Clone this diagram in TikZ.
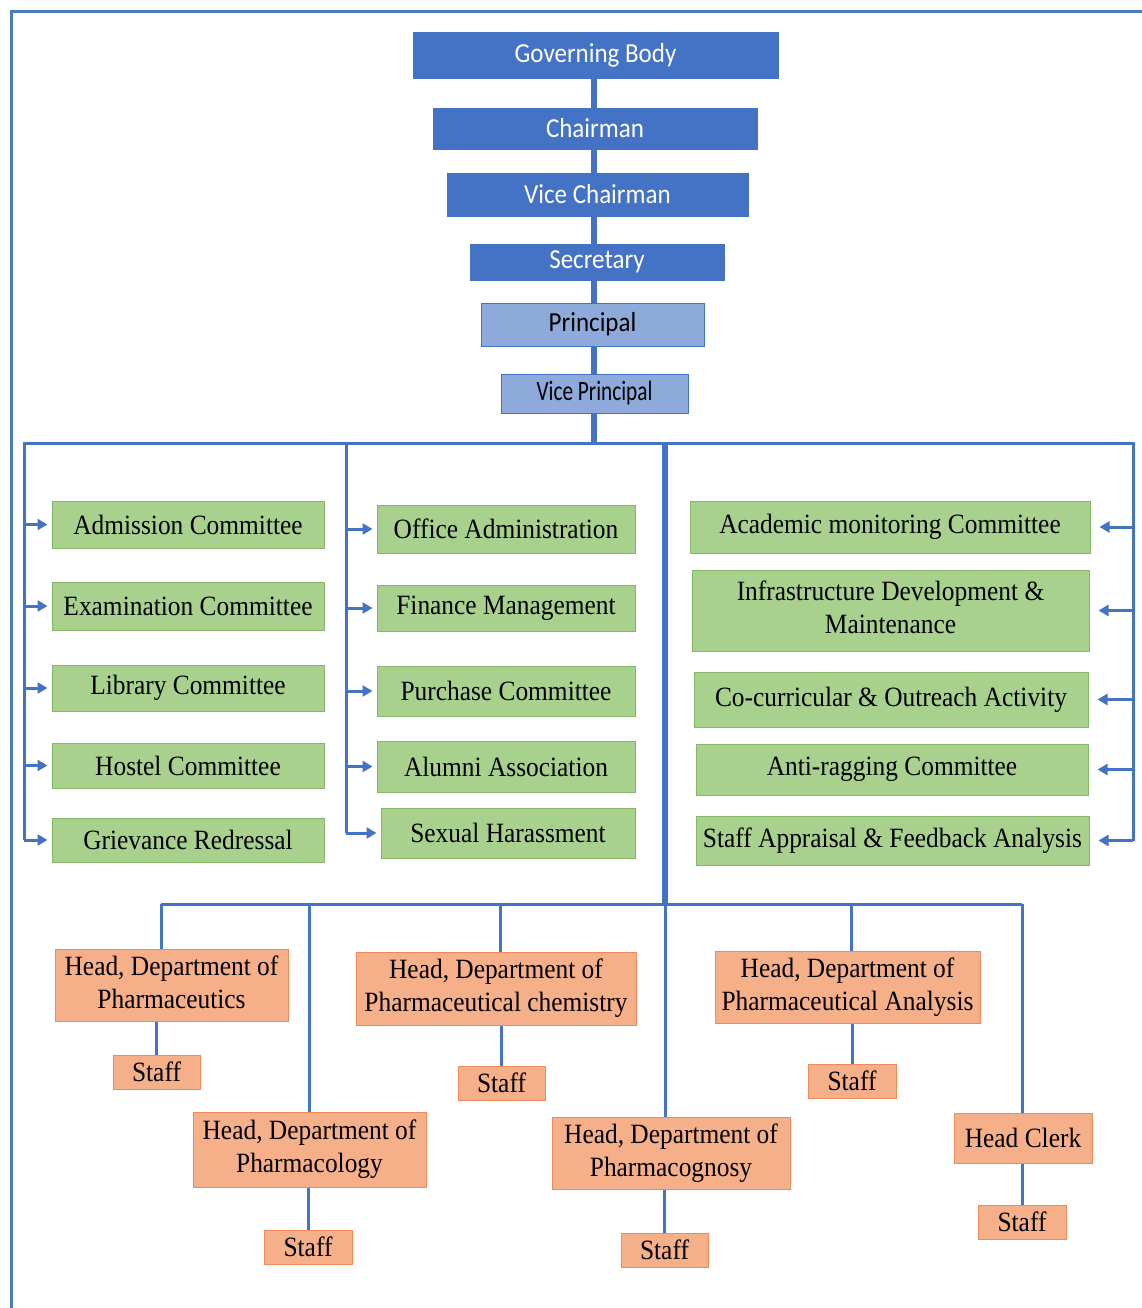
\documentclass[tikz,border=0pt]{standalone}
\usepackage{fontspec}
\usepackage{graphicx}
\setmainfont{Liberation Serif}
\newfontfamily\carl{Carlito}
\usetikzlibrary{arrows.meta,backgrounds}
\definecolor{topblue}{HTML}{4472C4}
\definecolor{lightblue}{HTML}{8EAADB}
\definecolor{linkblue}{HTML}{4472C4}
\definecolor{framecol}{HTML}{4A7EBB}
\definecolor{greenfill}{HTML}{A9D18E}
\definecolor{greenline}{HTML}{82B866}
\definecolor{orangefill}{HTML}{F5B08A}
\definecolor{orangeline}{HTML}{EE8B5A}
\newcommand{\vs}[1]{\scalebox{1}[1.1]{#1}}
\newcommand{\vsc}[1]{\scalebox{0.85}[1.12]{#1}}
\newcommand{\two}[2]{\vs{\begin{tabular}{@{}c@{}}#1\\#2\end{tabular}}}
\tikzset{
  topbox/.style={draw=topblue, fill=topblue, line width=0.8pt, inner sep=0pt,
    text=white, font=\carl\fontsize{25}{30}\selectfont},
  midbox/.style={draw=topblue, fill=lightblue, line width=1pt, inner sep=0pt,
    text=black, font=\carl\fontsize{25}{30}\selectfont},
  greenbox/.style={draw=greenline, fill=greenfill, line width=1pt, inner sep=0pt,
    text=black, font=\fontsize{25.4}{30}\selectfont},
  orangebox/.style={draw=orangeline, fill=orangefill, line width=1pt, inner sep=0pt,
    text=black, font=\fontsize{25.4}{30}\selectfont},
  link/.style={draw=linkblue, line width=3pt},
  trunk/.style={draw=linkblue, line width=6.5pt},
  arr/.style={draw=linkblue, line width=3pt, -{Triangle[length=10pt,width=11pt]}, shorten >=4pt},
}
\begin{document}
\begin{tikzpicture}[x=1pt,y=-1pt]
\useasboundingbox (0,0) rectangle (1141,1308);

% top chain
\node[topbox, minimum width=365pt, minimum height=46pt] (gb) at (595.5,55) {\vs{Governing Body}};
\node[topbox, minimum width=324pt, minimum height=41pt] (ch) at (595,128.5) {\vs{Chairman}};
\node[topbox, minimum width=301pt, minimum height=43pt] (vc) at (597.5,194.5) {\vs{Vice Chairman}};
\node[topbox, minimum width=254pt, minimum height=36pt] (sec) at (597,262) {\vs{Secretary}};
\node[midbox, minimum width=223pt, minimum height=43pt] (pr) at (592.5,324.5) {\vs{Principal}};
\node[midbox, minimum width=187pt, minimum height=39pt] (vp) at (594.5,393.5) {\vsc{Vice Principal}};

\coordinate (hub) at (594,443);
\coordinate (lv) at (24,443);
\coordinate (mv) at (346,443);
\coordinate (tv) at (665,443);
\coordinate (rv) at (1133,443);

% left column
\node[greenbox, minimum width=272pt, minimum height=47pt] (adm) at (188,524.5) {\vs{Admission Committee}};
\node[greenbox, minimum width=272pt, minimum height=48pt] (exam) at (188,606) {\vs{Examination Committee}};
\node[greenbox, minimum width=272pt, minimum height=46pt] (lib) at (188,688) {\vs{Library Committee}};
\node[greenbox, minimum width=272pt, minimum height=45pt] (hos) at (188,765.5) {\vs{Hostel Committee}};
\node[greenbox, minimum width=272pt, minimum height=44pt] (gri) at (188,840) {\vs{Grievance Redressal}};
% middle column
\node[greenbox, minimum width=258pt, minimum height=48pt] (off) at (506,529) {\vs{Office Administration}};
\node[greenbox, minimum width=258pt, minimum height=46pt] (fin) at (506,608) {\vs{Finance Management}};
\node[greenbox, minimum width=258pt, minimum height=50pt] (pur) at (506,691) {\vs{Purchase Committee}};
\node[greenbox, minimum width=258pt, minimum height=51pt] (alu) at (506,766.5) {\vs{Alumni Association}};
\node[greenbox, minimum width=254pt, minimum height=50pt] (sex) at (508,833) {\vs{Sexual Harassment}};
% right column
\node[greenbox, minimum width=400pt, minimum height=52pt] (aca) at (890,527) {\vs{Academic monitoring Committee}};
\node[greenbox, minimum width=397pt, minimum height=81pt] (inf) at (890.5,610.5) {\two{Infrastructure Development \&}{Maintenance}};
\node[greenbox, minimum width=394pt, minimum height=55pt] (coc) at (891,699.5) {\vs{Co-curricular \& Outreach Activity}};
\node[greenbox, minimum width=392pt, minimum height=51pt] (ant) at (892,769.5) {\vs{Anti-ragging Committee}};
\node[greenbox, minimum width=393pt, minimum height=49pt] (sap) at (892.5,840.5) {\vs{Staff Appraisal \& Feedback Analysis}};

% departments
\node[orangebox, minimum width=233pt, minimum height=72pt] (pceu) at (171.5,985) {\two{Head, Department of}{Pharmaceutics}};
\node[orangebox, minimum width=87pt, minimum height=34pt] (s1) at (156.5,1072) {\vs{Staff}};
\node[orangebox, minimum width=233pt, minimum height=75pt] (pcol) at (309.5,1149.5) {\two{Head, Department of}{Pharmacology}};
\node[orangebox, minimum width=88pt, minimum height=34pt] (s2) at (308,1247) {\vs{Staff}};
\node[orangebox, minimum width=280pt, minimum height=73pt] (pche) at (496,988.5) {\two{Head, Department of}{Pharmaceutical chemistry}};
\node[orangebox, minimum width=87pt, minimum height=34pt] (s3) at (501.5,1083) {\vs{Staff}};
\node[orangebox, minimum width=238pt, minimum height=72pt] (pcog) at (671,1153) {\two{Head, Department of}{Pharmacognosy}};
\node[orangebox, minimum width=87pt, minimum height=34pt] (s4) at (664.5,1250) {\vs{Staff}};
\node[orangebox, minimum width=265pt, minimum height=72pt] (pana) at (847.5,987) {\two{Head, Department of}{Pharmaceutical Analysis}};
\node[orangebox, minimum width=88pt, minimum height=34pt] (s5) at (852,1081) {\vs{Staff}};
\node[orangebox, minimum width=138pt, minimum height=50pt] (clerk) at (1023,1138) {\vs{Head Clerk}};
\node[orangebox, minimum width=88pt, minimum height=34pt] (s6) at (1022,1222) {\vs{Staff}};

\coordinate (bh) at (665,904);
\coordinate (b1) at (161,904);
\coordinate (b2) at (309,904);
\coordinate (b3) at (500,904);
\coordinate (b5) at (851,904);
\coordinate (b6) at (1022,904);

\begin{scope}[on background layer]
  \fill[white] (0,0) rectangle (1141,1308);
  % frame
  \draw[framecol, line width=3pt] (11,1310) -- (11,12) -- (1143,12);
  % main trunk
  \draw[trunk, line width=6.5pt] (gb.south -| hub) -- (hub);
  \draw[trunk, line width=6pt] (tv) -- (bh);
  % distribution line
  \draw[link, line join=miter] (gri.west -| lv) -- (lv) -- (rv) -- (sap.east -| rv);
  \draw[link] (mv) -- (sex.west -| mv);
  % bottom bus
  \draw[link] (b1) -- (b6);
  \draw[link] (bh) -- (pcog.north -| bh);
  \draw[link] (b1) -- (pceu.north -| b1);
  \draw[link] (b2) -- (pcol.north -| b2);
  \draw[link] (b3) -- (pche.north -| b3);
  \draw[link] (b5) -- (pana.north -| b5);
  \draw[link] (b6) -- (clerk.north -| b6);
  % staff links
  \draw[link] (pceu.south -| s1) -- (s1.north);
  \draw[link] (pcol.south -| s2) -- (s2.north);
  \draw[link] (pche.south -| s3) -- (s3.north);
  \draw[link] (pcog.south -| s4) -- (s4.north);
  \draw[link] (pana.south -| s5) -- (s5.north);
  \draw[link] (clerk.south -| s6) -- (s6.north);
\end{scope}

% arrows
\foreach \n in {adm,exam,lib,hos,gri} { \draw[arr] (\n.west -| lv) -- (\n.west); }
\foreach \n in {off,fin,pur,alu,sex} { \draw[arr] (\n.west -| mv) -- (\n.west); }
\foreach \n in {aca,inf,coc,ant,sap} { \draw[arr, shorten >=9pt] (\n.east -| rv) -- (\n.east); }
\end{tikzpicture}
\end{document}
